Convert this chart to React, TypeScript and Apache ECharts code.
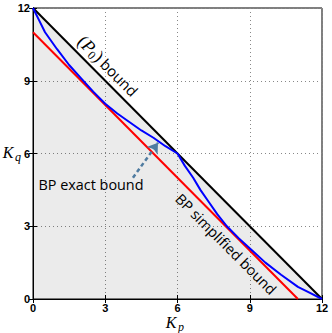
import React, { useEffect, useRef } from "react";
import * as echarts from "echarts";

const ticks = [0, 3, 6, 9, 12];
const p0Bound: number[][] = [[0, 12], [12, 0]];
const bpSimplified: number[][] = [[0, 11], [11, 0]];
const bpExact: number[][] = [
  [0, 12], [0.25, 11.5], [0.5, 11.0], [1, 10.3], [1.5, 9.65], [2, 9.1], [2.5, 8.55],
  [3, 8.05], [3.5, 7.65], [4, 7.3], [4.5, 6.95], [5, 6.65], [5.5, 6.3], [6, 6],
  [6.3, 5.5], [6.65, 5], [6.95, 4.5], [7.3, 4], [7.65, 3.5], [8.05, 3], [8.55, 2.5],
  [9.1, 2], [9.65, 1.5], [10.3, 1], [11.0, 0.5], [11.5, 0.25], [12, 0],
];
const arrowFrom = [4.15, 5.0];
const arrowTo = [5.19, 6.44];

const tickFont = { fontFamily: "Liberation Sans", fontWeight: "bold" as const, fontSize: 11, color: "#000" };
const serifItalic = { fontFamily: "Liberation Serif", fontStyle: "italic" as const, fill: "#000" };

export default function App() {
  const ref = useRef<HTMLDivElement>(null);
  useEffect(() => {
    if (!ref.current) return;
    const chart = echarts.init(ref.current, undefined, { renderer: "svg" });
    const grid = { left: 33, top: 8, right: 10, bottom: 34, show: true, borderColor: "#000", borderWidth: 1, backgroundColor: "#fff" };
    const axisCommon = {
      type: "value" as const,
      min: ticks[0],
      max: ticks[ticks.length - 1],
      interval: ticks[1] - ticks[0],
      axisLine: { show: true, lineStyle: { color: "#000", width: 1 } },
      axisTick: { show: true, inside: true, length: 4, lineStyle: { color: "#000" } },
    };
    chart.setOption({
      animation: false,
      grid,
      xAxis: [
        {
          ...axisCommon,
          position: "bottom",
          axisLabel: { ...tickFont, margin: 3, lineHeight: 11 },
          splitLine: { show: true, lineStyle: { type: [1, 3], color: "#888", width: 1 } },
        },
        {
          ...axisCommon,
          position: "top",
          axisLabel: { show: false },
          splitLine: { show: false },
        },
      ],
      yAxis: [
        {
          ...axisCommon,
          position: "left",
          axisLabel: { ...tickFont, margin: 3 },
          splitLine: { show: true, lineStyle: { type: [1, 3], color: "#888", width: 1 } },
        },
        {
          ...axisCommon,
          position: "right",
          axisLabel: { show: false },
          splitLine: { show: false },
        },
      ],
      series: [
        {
          type: "line",
          data: p0Bound,
          symbol: "none",
          lineStyle: { color: "#000", width: 2 },
          areaStyle: { color: "rgba(0,0,0,0.11)", origin: "start" },
          z: 3,
        },
        {
          type: "line",
          data: bpSimplified,
          symbol: "none",
          lineStyle: { color: "#ff0000", width: 2 },
          z: 4,
        },
        {
          type: "line",
          data: bpExact,
          symbol: "none",
          lineStyle: { color: "#0000ff", width: 2 },
          z: 5,
          markLine: {
            silent: true,
            symbol: ["none", "arrow"],
            symbolSize: 10,
            label: { show: false },
            lineStyle: { color: "#4f7ba0", width: 2.5, type: [4, 3] },
            data: [[{ coord: arrowFrom }, { coord: arrowTo }]],
          },
        },
      ],
      graphic: [
        {
          type: "text",
          x: 108,
          y: 66,
          rotation: -Math.PI / 4,
          style: {
            text: "{pp|(}{pi|P}{sub|0}{pp|)} {s|bound}",
            align: "center",
            verticalAlign: "middle",
            rich: {
              pp: { fontFamily: "Liberation Serif", fontSize: 18, fill: "#000" },
              pi: { ...serifItalic, fontSize: 18 },
              sub: { fontFamily: "Liberation Serif", fontSize: 12, fill: "#000", padding: [8, 0, 0, 0] },
              s: { fontFamily: "Open Sans", fontSize: 15, fill: "#000" },
            },
          },
        },
        {
          type: "text",
          x: 226,
          y: 244,
          rotation: -Math.PI / 4,
          style: {
            text: "BP simplified bound",
            align: "center",
            verticalAlign: "middle",
            fontFamily: "Open Sans",
            fontSize: 14.5,
            fill: "#000",
          },
        },
        {
          type: "text",
          x: 91,
          y: 184,
          style: {
            text: "BP exact bound",
            align: "center",
            verticalAlign: "middle",
            fontFamily: "Open Sans",
            fontSize: 14.4,
            fill: "#000",
          },
        },
        { type: "text", x: 171, y: 322, style: { text: "K", align: "center", verticalAlign: "middle", ...serifItalic, fontSize: 16, lineHeight: 16 } },
        { type: "text", x: 181, y: 327, style: { text: "p", align: "center", verticalAlign: "middle", ...serifItalic, fontSize: 12, lineHeight: 12 } },
        { type: "text", x: 8, y: 152, style: { text: "K", align: "center", verticalAlign: "middle", ...serifItalic, fontSize: 16, lineHeight: 16 } },
        { type: "text", x: 18, y: 157, style: { text: "q", align: "center", verticalAlign: "middle", ...serifItalic, fontSize: 12, lineHeight: 12 } },
      ],
    });
    return () => chart.dispose();
  }, []);
  return <div ref={ref} style={{ position: "absolute", left: 0, top: 0, width: 332, height: 333 }} />;
}
